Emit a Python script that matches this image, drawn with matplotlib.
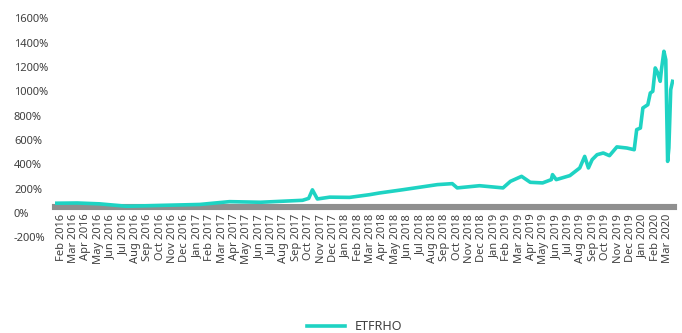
import matplotlib.pyplot as plt

plt.rcParams['font.family'] = ['Noto Sans', 'DejaVu Sans']

# month labels on the x axis (one per month, Feb 2016 .. Mar 2020)
month_labels = []
for year in range(2016, 2021):
    for mon in ["Jan", "Feb", "Mar", "Apr", "May", "Jun", "Jul", "Aug", "Sep", "Oct", "Nov", "Dec"]:
        month_labels.append(f"{mon} {year}")
month_labels = month_labels[1:51]

# ETFRHO series, x in months since 1 Feb 2016, y in percent
etf_months = [0.0, 1.8, 3.6, 5.8, 8.5, 11.7, 14.1, 16.6, 20.0, 20.5, 20.8, 21.2,
              22.2, 23.8, 25.4, 26.2, 28.1, 30.9, 32.1, 32.5, 34.3, 36.2, 36.8,
              37.7, 38.4, 39.4, 40.1, 40.2, 40.5, 41.6, 42.4, 42.8, 43.1, 43.4,
              43.8, 44.3, 44.8, 45.4, 46.2, 46.8, 47.0, 47.3, 47.5, 47.9, 48.1,
              48.3, 48.5, 48.7, 48.9, 49.0, 49.2, 49.35, 49.5, 49.6, 49.75, 49.9]
etf_values = [80, 82, 75, 55, 62, 70, 93, 88, 104, 120, 190, 115,
              130, 128, 150, 164, 191, 233, 241, 206, 224, 206, 260,
              301, 252, 247, 274, 315, 274, 307, 370, 465, 370, 438,
              479, 493, 471, 543, 534, 520, 685, 698, 863, 890, 986,
              1000, 1192, 1151, 1082, 1178, 1329, 1260, 424, 534, 1014, 1082]

y_ticks = list(range(-200, 1601, 200))

fig = plt.figure(figsize=(6.82, 3.33), dpi=100)
ax = fig.add_axes([0.0806, 0.2874, 0.9074, 0.6576])

ax.plot(etf_months, etf_values, color="#1ed3c3", linewidth=2.6,
        solid_joinstyle="round", label="ETFRHO", zorder=3)

ax.set_xlim(0, 50)
ax.set_ylim(-200, 1600)

for side in ["top", "right", "left"]:
    ax.spines[side].set_visible(False)
# horizontal axis drawn as a thick grey band
ax.spines["bottom"].set_position(("data", 45))
ax.spines["bottom"].set_color("#8f8f8f")
ax.spines["bottom"].set_linewidth(4.4)
ax.spines["bottom"].set_zorder(2)

ax.set_xticks([i + 0.5 for i in range(len(month_labels))])
ax.set_xticklabels(month_labels, rotation=90, fontsize=8, color="#404040")
ax.tick_params(axis="x", length=0, pad=4.5)

ax.set_yticks(y_ticks)
ax.set_yticklabels([f"{v}%" for v in y_ticks], fontsize=8, color="#404040")
ax.tick_params(axis="y", length=0, pad=29.5)
for lab in ax.get_yticklabels():
    lab.set_horizontalalignment("left")

fig.legend(loc="lower center", bbox_to_anchor=(0.52, -0.035), frameon=False,
           fontsize=9, handlelength=3.0, labelcolor="#404040")

fig.savefig("out.png", dpi=100)
